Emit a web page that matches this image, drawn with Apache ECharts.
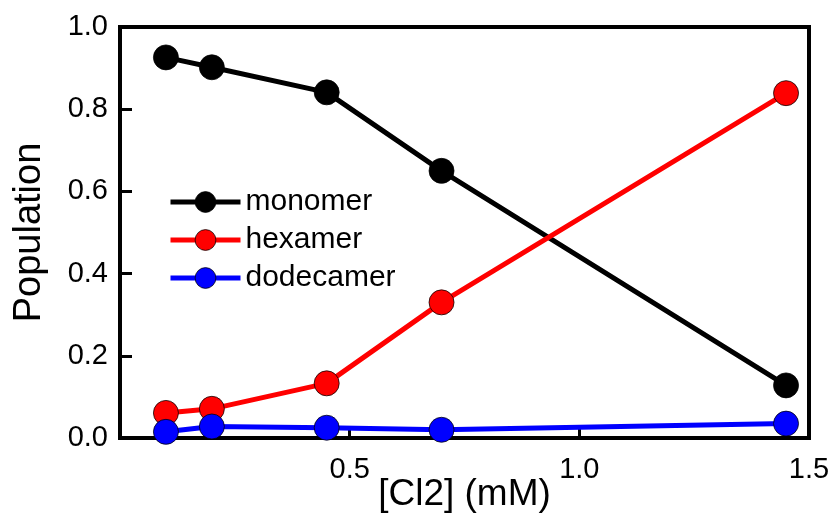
<!DOCTYPE html>
<html>
<head>
<meta charset="utf-8">
<script src="https://cdn.jsdelivr.net/npm/echarts@6/dist/echarts.min.js"></script>
<style>
  html, body { margin: 0; padding: 0; background: #fff; }
  #chart { width: 834px; height: 518px; }
</style>
</head>
<body>
<div id="chart"></div>
<script>
// Concentration of Cl2 (mM) at each measurement
const concentrations = [0.1, 0.2, 0.45, 0.7, 1.45];

// Fractional population of each oligomeric state
const monomer    = [0.926, 0.902, 0.841, 0.65, 0.128];
const hexamer    = [0.061, 0.071, 0.133, 0.33, 0.839];
const dodecamer  = [0.015, 0.028, 0.025, 0.020, 0.035];

const seriesNames  = ['monomer', 'hexamer', 'dodecamer'];
const seriesColors = ['#000000', '#ff0000', '#0000ff'];
const seriesValues = [monomer, hexamer, dodecamer];

const FONT = "'Liberation Sans', Arial, Helvetica, sans-serif";

const chart = echarts.init(document.getElementById('chart'), null, { renderer: 'canvas' });

const series = seriesNames.map((name, i) => ({
  name: name,
  type: 'line',
  data: concentrations.map((x, j) => [x, seriesValues[i][j]]),
  symbol: 'circle',
  symbolSize: 25,
  lineStyle: { color: seriesColors[i], width: 5 },
  itemStyle: { color: seriesColors[i], borderColor: 'rgba(0,0,0,0.75)', borderWidth: 1 },
  emphasis: { disabled: true },
  z: 2 + i
}));

chart.setOption({
  animation: false,
  backgroundColor: '#ffffff',
  textStyle: { fontFamily: FONT },
  grid: {
    left: 120, right: 25, top: 27, bottom: 80,
    show: true, borderColor: '#000', borderWidth: 4,
    containLabel: false,
    outerBoundsMode: 'none'
  },
  legend: {
    orient: 'vertical',
    left: 168,
    top: 187,
    padding: 0,
    itemWidth: 70,
    itemHeight: 26,
    itemGap: 8,
    data: seriesNames.map((n, i) => ({
      name: n,
      itemStyle: { color: seriesColors[i], borderColor: 'rgba(0,0,0,0.75)', borderWidth: 1 },
      lineStyle: { color: seriesColors[i], width: 5 }
    })),
    textStyle: { fontFamily: FONT, fontSize: 30, color: '#000' },
    selectedMode: false
  },
  xAxis: {
    type: 'value',
    min: 0, max: 1.5, interval: 0.5,
    name: '[Cl2] (mM)',
    nameLocation: 'middle',
    nameGap: 38,
    nameMoveOverlap: false,
    nameTextStyle: { fontFamily: FONT, fontSize: 37, color: '#000' },
    axisLine: { show: true, lineStyle: { color: '#000', width: 4 } },
    axisTick: { show: true, inside: true, length: 12, lineStyle: { color: '#000', width: 3 } },
    axisLabel: {
      fontFamily: FONT, fontSize: 29, color: '#000', margin: 17,
      formatter: v => (v === 0 ? '' : v.toFixed(1))
    },
    splitLine: { show: false }
  },
  yAxis: {
    type: 'value',
    min: 0, max: 1.0, interval: 0.2,
    name: 'Population',
    nameLocation: 'middle',
    nameGap: 71,
    nameMoveOverlap: false,
    nameTextStyle: { fontFamily: FONT, fontSize: 38, color: '#000' },
    axisLine: { show: true, lineStyle: { color: '#000', width: 4 } },
    axisTick: { show: true, inside: true, length: 12, lineStyle: { color: '#000', width: 3 } },
    axisLabel: {
      fontFamily: FONT, fontSize: 29, color: '#000', margin: 12,
      formatter: v => v.toFixed(1)
    },
    splitLine: { show: false }
  },
  series: series
});
</script>
</body>
</html>
